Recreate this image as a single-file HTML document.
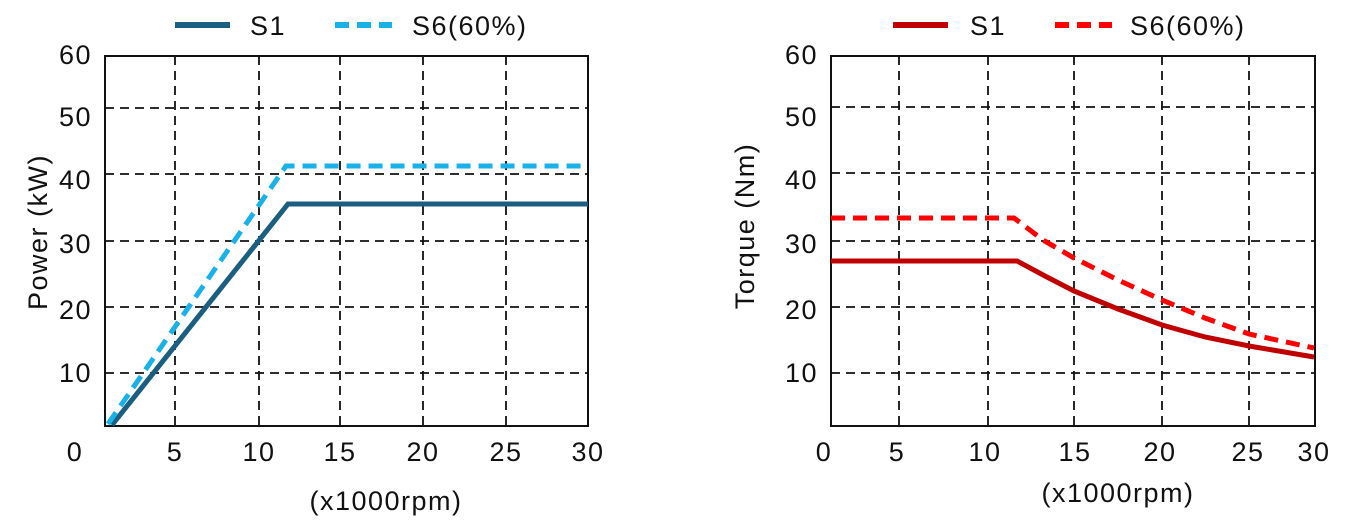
<!DOCTYPE html>
<html><head><meta charset="utf-8"><style>body{margin:0;background:#fff}svg{display:block}text{font-family:"Liberation Sans",sans-serif;font-size:27px;letter-spacing:1.5px;fill:#111}</style></head><body>
<svg width="1352" height="521" viewBox="0 0 1352 521">
<g stroke="#111" stroke-width="1.8" stroke-dasharray="9,6" fill="none">
<path d="M175 56V426M259 56V426M340 56V426M423 56V426M506 56V426"/>
<path d="M105 108H588M105 174H588M105 241H588M105 307H588M105 373H588"/>
<path d="M899 56V426M988 56V426M1074 56V426M1162 56V426M1249 56V426"/>
<path d="M831 107H1315M831 173H1315M831 241H1315M831 307H1315M831 373H1315"/>
</g>
<rect x="105" y="56" width="483" height="370" fill="none" stroke="#111" stroke-width="2"/>
<rect x="831" y="56" width="484" height="370" fill="none" stroke="#111" stroke-width="2"/>
<polyline points="112,425 288,204 588,204" fill="none" stroke="#1b5e80" stroke-width="5"/>
<polyline points="108,424 286,166 588,166" fill="none" stroke="#1ab0e8" stroke-width="5" stroke-dasharray="14,8"/>
<polyline points="831,261 1017,261 1045,276 1074,291 1118,309 1162,325 1205,337 1249,346 1314,357" fill="none" stroke="#c00000" stroke-width="5"/>
<polyline points="831,218 1014,218 1043,240 1074,258 1118,280 1162,300 1205,318 1249,334 1314,348" fill="none" stroke="#ff0000" stroke-width="5" stroke-dasharray="14,8"/>
<line x1="175" y1="25" x2="230" y2="25" stroke="#1b5e80" stroke-width="6"/>
<line x1="335" y1="25" x2="392" y2="25" stroke="#1ab0e8" stroke-width="6" stroke-dasharray="14,8"/>
<line x1="893" y1="25" x2="948" y2="25" stroke="#c00000" stroke-width="6"/>
<line x1="1055" y1="25" x2="1112" y2="25" stroke="#ff0000" stroke-width="6" stroke-dasharray="14,8"/>
<text x="250" y="35">S1</text><text x="412" y="35">S6(60%)</text>
<text x="970" y="35">S1</text><text x="1130" y="35">S6(60%)</text>
<g text-anchor="end">
<text x="92" y="64">60</text><text x="92" y="126">50</text><text x="92" y="189">40</text><text x="92" y="253">30</text><text x="92" y="319">20</text><text x="92" y="382">10</text>
<text x="818" y="64">60</text><text x="818" y="126">50</text><text x="818" y="189">40</text><text x="818" y="253">30</text><text x="818" y="319">20</text><text x="818" y="382">10</text>
</g>
<g text-anchor="middle">
<text x="75" y="461">0</text><text x="175" y="461">5</text><text x="259" y="461">10</text><text x="340" y="461">15</text><text x="423" y="461">20</text><text x="506" y="461">25</text><text x="588" y="461">30</text>
<text x="824" y="461">0</text><text x="897" y="461">5</text><text x="985" y="461">10</text><text x="1075" y="461">15</text><text x="1160" y="461">20</text><text x="1248" y="461">25</text><text x="1314" y="461">30</text>
<text x="386" y="510">(x1000rpm)</text><text x="1118" y="502">(x1000rpm)</text>
<text transform="translate(47,232) rotate(-90)">Power (kW)</text>
<text transform="translate(754,226) rotate(-90)">Torque  (Nm)</text>
</g>
</svg>
</body></html>
